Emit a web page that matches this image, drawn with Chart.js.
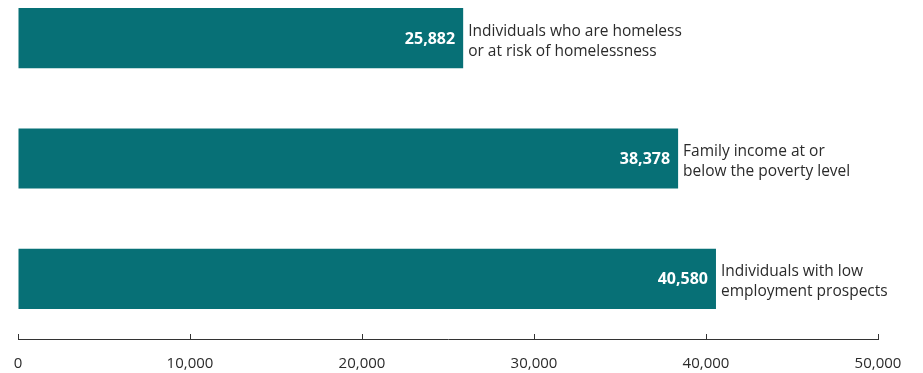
<!DOCTYPE html>
<html>
<head>
<meta charset="utf-8">
<script src="https://cdn.jsdelivr.net/npm/chart.js@4/dist/chart.umd.min.js"></script>
<style>
  html, body { margin: 0; padding: 0; background: #ffffff; overflow: hidden; }
  #frame { width: 923px; height: 373px; position: relative; overflow: hidden; }
  /* the plot is taller than the frame; its first band starts above the top edge */
  #wrap { width: 923px; height: 395px; position: absolute; left: 0; top: -22px; }
</style>
</head>
<body>
<div id="frame"><div id="wrap"><canvas id="c"></canvas></div></div>
<script>
// Number of people in each group
const categories = [
  ['Individuals who are homeless', 'or at risk of homelessness'],
  ['Family income at or', 'below the poverty level'],
  ['Individuals with low', 'employment prospects']
];
const values = [25882, 38378, 40580];
const tickValues = [0, 10000, 20000, 30000, 40000, 50000];

const BAR_COLOR = '#077076';
const TEXT_COLOR = '#2b2b2b';
const FONT = '"Open Sans", "Noto Sans", sans-serif';

const fmt = v => v.toLocaleString('en-US');

// Value inside each bar end, category text just past it
const barLabels = {
  id: 'barLabels',
  afterDatasetsDraw(chart) {
    const ctx = chart.ctx;
    const meta = chart.getDatasetMeta(0);
    ctx.save();
    meta.data.forEach((bar, i) => {
      ctx.font = `bold 16px ${FONT}`;
      ctx.fillStyle = '#ffffff';
      ctx.textAlign = 'right';
      ctx.textBaseline = 'middle';
      ctx.fillText(fmt(values[i]), bar.x - 8, bar.y + 1);

      ctx.font = `15.5px ${FONT}`;
      ctx.fillStyle = TEXT_COLOR;
      ctx.textAlign = 'left';
      const lines = categories[i];
      const lh = 20;
      const y0 = bar.y + 3 - (lines.length - 1) * lh / 2;
      lines.forEach((t, k) => ctx.fillText(t, bar.x + 5, y0 + k * lh));
    });
    ctx.restore();
  }
};

new Chart(document.getElementById('c'), {
  type: 'bar',
  data: {
    labels: categories.map(c => c.join(' ')),
    datasets: [{
      data: values,
      backgroundColor: BAR_COLOR,
      borderWidth: 0,
      categoryPercentage: 1,
      barPercentage: 0.5
    }]
  },
  options: {
    indexAxis: 'y',
    responsive: true,
    maintainAspectRatio: false,
    animation: false,
    layout: { padding: { top: 0, left: 18, right: 45, bottom: 0 } },
    plugins: { legend: { display: false }, tooltip: { enabled: false } },
    scales: {
      y: { display: false },
      x: {
        min: 0,
        max: 50000,
        afterBuildTicks: s => { s.ticks = tickValues.map(v => ({ value: v })); },
        afterFit: s => { s.height = 34; s.paddingLeft = 0; s.paddingRight = 0; },
        border: { display: true, color: '#333333', width: 1 },
        grid: {
          drawOnChartArea: false,
          drawTicks: true,
          tickLength: -5,
          color: '#333333',
          lineWidth: 1
        },
        ticks: {
          padding: 21,
          color: TEXT_COLOR,
          font: { family: FONT, size: 15 },
          maxRotation: 0,
          callback: v => fmt(v)
        }
      }
    }
  },
  plugins: [barLabels]
});
</script>
</body>
</html>
